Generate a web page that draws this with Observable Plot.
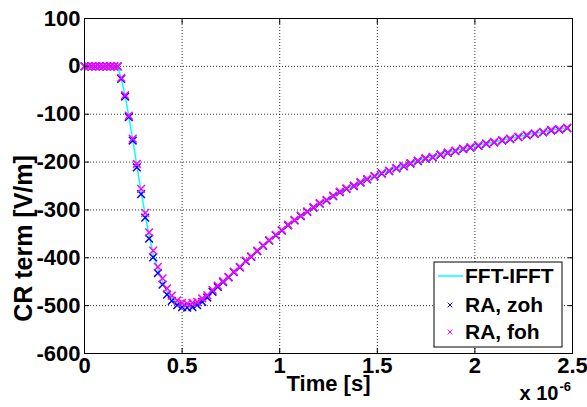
<!DOCTYPE html>
<html>
<head>
<meta charset="utf-8">
<script src="https://cdn.jsdelivr.net/npm/d3@7"></script>
<script src="https://cdn.jsdelivr.net/npm/@observablehq/plot@0.6"></script>
<style>
  html, body { margin: 0; padding: 0; background: #fff; }
  #chart { width: 587px; height: 407px; }
</style>
</head>
<body>
<div id="chart"></div>
<script>
// Time in microseconds (axis shows ×10^-6 s)
const markerTime = [
  0, 0.019, 0.038, 0.057, 0.076, 0.095, 0.114, 0.133, 0.152, 0.170,
  0.188, 0.208, 0.227, 0.247, 0.268,
  0.290, 0.311, 0.331, 0.352, 0.376,
  0.400, 0.423, 0.447, 0.475, 0.500,
  0.526, 0.553, 0.577, 0.603, 0.629,
  0.656, 0.683, 0.710, 0.738, 0.765,
  0.796, 0.826, 0.854, 0.885, 0.915,
  0.946, 0.980, 1.011, 1.043, 1.076,
  1.108, 1.141, 1.173, 1.205, 1.240,
  1.274, 1.308, 1.342, 1.380, 1.414,
  1.448, 1.486, 1.523, 1.561, 1.598,
  1.636, 1.670, 1.708, 1.747, 1.784,
  1.824, 1.861, 1.900, 1.940, 1.977,
  2.018, 2.058, 2.099, 2.140, 2.181,
  2.223, 2.266, 2.307, 2.350, 2.391,
  2.432, 2.473
];
const fftIfft = [
  0, 0, 0, 0, 0, 0, 0, 0, 0, 0,
  -25, -61, -104, -153, -207,
  -261, -311, -353, -392, -425,
  -449, -470, -484, -494, -498,
  -500, -498, -495, -488, -480,
  -469, -459, -450, -440, -429,
  -419, -406, -397, -385, -374,
  -363, -352, -342, -331, -321,
  -312, -303, -294, -286, -279,
  -270, -262, -255, -249, -242,
  -235, -229, -223, -218, -212,
  -208, -202, -197, -192, -189,
  -184, -180, -176, -172, -169,
  -165, -161, -158, -154, -151,
  -147, -143, -140, -137, -133,
  -131, -128
];
const raZoh = [
  0, 0, 0, 0, 0, 0, 0, 0, 0, 0,
  -26, -63, -106, -155, -211,
  -267, -316, -360, -399, -432,
  -456, -477, -490, -499, -503,
  -504, -503, -499, -492, -483,
  -471, -461, -451, -441, -430,
  -420, -407, -398, -386, -375,
  -364, -353, -343, -332, -322,
  -313, -304, -295, -287, -280,
  -271, -263, -256, -250, -243,
  -236, -230, -224, -219, -213,
  -209, -203, -198, -193, -190,
  -185, -181, -177, -173, -170,
  -166, -162, -159, -155, -152,
  -148, -144, -141, -138, -134,
  -132, -129
];
const raFoh = [
  0, 0, 0, 0, 0, 0, 0, 0, 0, 0,
  -24, -60, -103, -151, -204,
  -256, -306, -347, -385, -419,
  -443, -464, -479, -489, -494,
  -496, -494, -492, -485, -478,
  -467, -458, -449, -440, -429,
  -419, -406, -397, -385, -374,
  -363, -352, -342, -331, -321,
  -312, -303, -294, -286, -279,
  -270, -262, -255, -249, -242,
  -235, -229, -223, -218, -212,
  -208, -202, -197, -192, -189,
  -184, -180, -176, -172, -169,
  -165, -161, -158, -154, -151,
  -147, -143, -140, -137, -133,
  -131, -128
];
const xTicks = [0, 0.5, 1, 1.5, 2, 2.5];
const xTickLabels = ["0", "0.5", "1", "1.5", "2", "2.5"];
const yTicks = [-600, -500, -400, -300, -200, -100, 0, 100];
const yTickLabels = ["-600", "-500", "-400", "-300", "-200", "-100", "0", "100"];
const seriesNames = ["FFT-IFFT", "RA, zoh", "RA, foh"];
const seriesColors = ["#00ffff", "#0000ff", "#ff00ff"];
const xLabel = "Time [s]";
const yLabel = "CR term [V/m]";
const xMultiplier = "x 10";
const xExponent = "-6";

const lineData = markerTime.map((t, i) => ({t, v: fftIfft[i]}));
const zohData = markerTime.map((t, i) => ({t, v: raZoh[i]}));
const fohData = markerTime.map((t, i) => ({t, v: raFoh[i]}));

const W = 587, H = 407, mL = 84, mR = 15, mT = 18, mB = 54;
const FONT = "'Liberation Sans', Arial, Helvetica, sans-serif";
const FS = 22;
const xLab = new Map(xTicks.map((d, i) => [d, xTickLabels[i]]));
const yLab = new Map(yTicks.map((d, i) => [d, yTickLabels[i]]));
const gridStyle = {stroke: "#000", strokeOpacity: 0.8, strokeDasharray: "1,2", strokeWidth: 1};

const plot = Plot.plot({
  width: W, height: H,
  marginLeft: mL, marginRight: mR, marginTop: mT, marginBottom: mB,
  style: {fontFamily: FONT, fontWeight: "bold", fontSize: FS + "px", background: "#fff", color: "#000", overflow: "visible"},
  x: {domain: [0, 2.5]},
  y: {domain: [-600, 100]},
  marks: [
    Plot.ruleX(xTicks.slice(1, -1), gridStyle),
    Plot.ruleY(yTicks.slice(1, -1), gridStyle),
    Plot.line(lineData, {x: "t", y: "v", stroke: seriesColors[0], strokeWidth: 1.5}),
    Plot.dot(zohData, {x: "t", y: "v", symbol: "times", r: 3.6, stroke: seriesColors[1], strokeWidth: 1.5}),
    Plot.dot(fohData, {x: "t", y: "v", symbol: "times", r: 3.6, stroke: seriesColors[2], strokeWidth: 1.5}),
    Plot.frame({stroke: "#000", strokeWidth: 1}),
    // inward tick marks on all four sides
    Plot.axisX(xTicks, {anchor: "bottom", tickSize: -5, tickFormat: () => "", label: null}),
    Plot.axisX(xTicks, {anchor: "top", tickSize: -5, tickFormat: () => "", label: null}),
    Plot.axisY(yTicks, {anchor: "left", tickSize: -5, tickFormat: () => "", label: null}),
    Plot.axisY(yTicks, {anchor: "right", tickSize: -5, tickFormat: () => "", label: null}),
    // tick labels
    Plot.axisX(xTicks, {anchor: "bottom", tickSize: 0, tickPadding: 4, tickFormat: d => xLab.get(d), label: null, fontSize: FS, fontWeight: "bold"}),
    Plot.axisY(yTicks, {anchor: "left", tickSize: 0, tickPadding: 4, tickFormat: d => yLab.get(d), label: null, fontSize: FS, fontWeight: "bold"}),
    // x axis title and multiplier
    Plot.text([xLabel], {frameAnchor: "bottom", dy: 37, fontSize: FS, fontWeight: "bold", text: d => d}),
    Plot.text([xMultiplier], {frameAnchor: "bottom-right", dx: -14, dy: 46, textAnchor: "end", fontSize: 20, fontWeight: "bold", text: d => d}),
    Plot.text([xExponent], {frameAnchor: "bottom-right", dx: -13, dy: 37, textAnchor: "start", fontSize: 13, fontWeight: "bold", text: d => d})
  ]
});
document.getElementById("chart").appendChild(plot);

const svg = d3.select(plot);
// y axis title (rotated)
svg.append("text")
  .attr("transform", `translate(23,${(mT + H - mB) / 2 + 53}) rotate(-90)`)
  .attr("text-anchor", "middle").attr("dy", "0.35em")
  .attr("font-family", FONT).attr("font-weight", "bold").attr("font-size", 25)
  .attr("fill", "#000").text(yLabel);

// Legend box (MATLAB style, lower right inside the axes)
const lgW = 128, lgH = 85;
const lgX = W - mR - 10 - lgW, lgY = H - mB - 6 - lgH;
const lg = svg.append("g").attr("transform", `translate(${lgX},${lgY})`);
lg.append("rect").attr("width", lgW).attr("height", lgH).attr("fill", "#fff").attr("stroke", "#000").attr("stroke-width", 1);
const rowY = [14, 43, 70];
seriesNames.forEach((name, i) => {
  const y = rowY[i];
  if (i === 0) {
    lg.append("line").attr("x1", 4).attr("x2", 29).attr("y1", y).attr("y2", y)
      .attr("stroke", seriesColors[i]).attr("stroke-width", 1.5);
  } else {
    lg.append("path").attr("transform", `translate(16,${y})`)
      .attr("d", d3.symbol(d3.symbolTimes, 16)())
      .attr("fill", "none").attr("stroke", seriesColors[i]).attr("stroke-width", 1);
  }
  lg.append("text").attr("x", 31).attr("y", y).attr("dy", "0.35em")
    .attr("text-anchor", "start")
    .attr("font-family", FONT).attr("font-weight", "bold").attr("font-size", 21)
    .attr("fill", "#000").text(name);
});
</script>
</body>
</html>
